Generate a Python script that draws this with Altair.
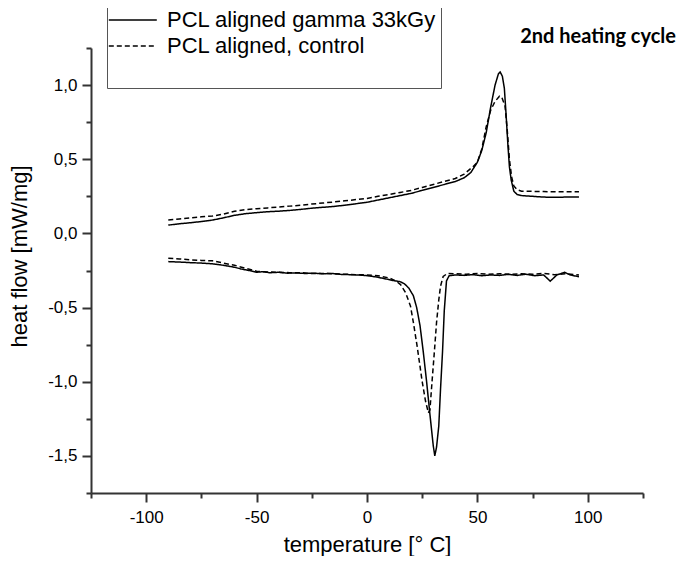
import altair as alt
import pandas as pd

S1 = "PCL aligned gamma 33kGy"
S2 = "PCL aligned, control"

# upper branch, gamma 33kGy (solid)
up_g_t = [-90, -85, -80, -75, -70, -65, -60, -55, -50, -45, -40, -35, -30, -25, -20, -15, -10, -5, 0, 5, 10, 15, 20, 25, 30, 35, 40, 44, 47, 50, 52, 54, 56, 58, 59.5, 60.3, 61.3, 62.2, 63, 63.8, 64.5, 65.3, 66.5, 68, 70, 75, 80, 85, 90, 96]
up_g_h = [0.056, 0.065, 0.072, 0.08, 0.09, 0.105, 0.122, 0.133, 0.14, 0.146, 0.15, 0.155, 0.162, 0.17, 0.176, 0.182, 0.19, 0.2, 0.21, 0.225, 0.24, 0.255, 0.27, 0.29, 0.31, 0.33, 0.35, 0.375, 0.41, 0.48, 0.56, 0.68, 0.85, 1.0, 1.075, 1.088, 1.06, 0.98, 0.8, 0.6, 0.45, 0.36, 0.285, 0.262, 0.255, 0.25, 0.245, 0.243, 0.245, 0.245]

# upper branch, control (dashed)
up_c_t = [-90, -85, -80, -75, -70, -65, -60, -55, -50, -45, -40, -35, -30, -25, -20, -15, -10, -5, 0, 5, 10, 15, 20, 25, 30, 35, 40, 44, 48, 50, 52, 54, 56, 58, 60, 61, 62.5, 63.5, 64.5, 65.5, 66.5, 68, 70, 80, 90, 96]
up_c_h = [0.09, 0.098, 0.105, 0.112, 0.117, 0.13, 0.15, 0.16, 0.167, 0.172, 0.178, 0.184, 0.19, 0.198, 0.205, 0.212, 0.22, 0.228, 0.236, 0.25, 0.262, 0.276, 0.29, 0.31, 0.33, 0.35, 0.37, 0.4, 0.45, 0.48, 0.57, 0.72, 0.83, 0.89, 0.925, 0.92, 0.86, 0.7, 0.5, 0.38, 0.32, 0.295, 0.285, 0.282, 0.28, 0.281]

# lower branch, gamma 33kGy (solid)
lo_g_t = [-90, -85, -80, -75, -70, -65, -60, -57, -54, -50, -47, -44, -40, -36, -32, -28, -24, -20, -16, -12, -8, -4, 0, 4, 8, 12, 15, 17, 19, 21, 22.5, 24, 25.5, 27, 28.5, 30, 30.7, 31.5, 32.5, 33.3, 34.2, 35, 36, 37.2, 40, 44, 48, 52, 56, 60, 64, 68, 72, 76, 80, 83, 86, 89.5, 92, 96]
lo_g_h = [-0.19, -0.193, -0.197, -0.2, -0.205, -0.215, -0.228, -0.24, -0.248, -0.262, -0.258, -0.265, -0.262, -0.268, -0.266, -0.27, -0.268, -0.272, -0.27, -0.276, -0.278, -0.28, -0.285, -0.293, -0.305, -0.318, -0.325, -0.34, -0.37, -0.42, -0.5, -0.62, -0.8, -1.0, -1.22, -1.43, -1.5, -1.44, -1.3, -1.05, -0.8, -0.52, -0.32, -0.285, -0.28, -0.283, -0.278, -0.285, -0.28, -0.283, -0.276, -0.283, -0.275, -0.285, -0.28, -0.322, -0.28, -0.262, -0.28, -0.292]

# lower branch, control (dashed)
lo_c_t = [-90, -85, -80, -75, -70, -65, -60, -55, -50, -45, -40, -35, -30, -25, -20, -15, -10, -5, 0, 5, 10, 13, 15.2, 17.5, 19.7, 21, 22.7, 25, 26.5, 27.8, 28.5, 29.5, 30.5, 31.5, 32.5, 33.3, 34.5, 36.4, 40, 45, 50, 55, 60, 65, 70, 75, 80, 85, 90, 96]
lo_c_h = [-0.167, -0.172, -0.178, -0.182, -0.185, -0.2, -0.215, -0.235, -0.255, -0.26, -0.262, -0.265, -0.265, -0.27, -0.27, -0.272, -0.275, -0.278, -0.28, -0.285, -0.3, -0.32, -0.345, -0.4, -0.49, -0.6, -0.76, -1.0, -1.13, -1.21, -1.19, -0.99, -0.8, -0.6, -0.45, -0.356, -0.29, -0.27, -0.272, -0.275, -0.27, -0.275, -0.272, -0.276, -0.272, -0.275, -0.27, -0.278, -0.272, -0.28]

x_ticks = [-125, -100, -75, -50, -25, 0, 25, 50, 75, 100, 125]
y_ticks = [-1.75, -1.5, -1.25, -1.0, -0.75, -0.5, -0.25, 0.0, 0.25, 0.5, 0.75, 1.0, 1.25]

rows = []
for series, branch, ts, hs in [
    (S1, "up", up_g_t, up_g_h),
    (S2, "up", up_c_t, up_c_h),
    (S1, "low", lo_g_t, lo_g_h),
    (S2, "low", lo_c_t, lo_c_h),
]:
    for t, h in zip(ts, hs):
        rows.append({"series": series, "branch": branch, "T": t, "hf": h})
df = pd.DataFrame(rows)

FONT = "Liberation Sans"

lines = alt.Chart(df).mark_line(strokeWidth=1.5, color="black").encode(
    x=alt.X(
        "T:Q",
        scale=alt.Scale(domain=[-125, 125], nice=False, zero=False),
        axis=alt.Axis(
            title="temperature [° C]",
            values=x_ticks,
            labelExpr="datum.value % 50 == 0 ? '' + datum.value : ''",
            tickSize={"condition": {"test": "datum.value % 50 == 0", "value": 9}, "value": 5},
            labelPadding=7,
            labelOverlap=False,
            labelFlush=False,
            titleY=58,
            titleBaseline="alphabetic",
        ),
    ),
    y=alt.Y(
        "hf:Q",
        scale=alt.Scale(domain=[-1.75, 1.25], nice=False, zero=False),
        axis=alt.Axis(
            title="heat flow [mW/mg]",
            values=y_ticks,
            labelExpr="datum.value % 0.5 == 0 ? (datum.value < 0 ? '-' : '') + replace(format(abs(datum.value), '.1f'), '.', ',') : ''",
            tickSize={"condition": {"test": "datum.value % 0.5 == 0", "value": 9}, "value": 5},
            labelPadding=5,
            labelOverlap=False,
            labelFlush=False,
            titleX=-65,
            titleY=208,
            titleBaseline="alphabetic",
        ),
    ),
    strokeDash=alt.StrokeDash(
        "series:N",
        scale=alt.Scale(domain=[S1, S2], range=[[1, 0], [5, 3]]),
        legend=alt.Legend(
            orient="none",
            legendX=16,
            legendY=-43,
            title=" ",
            titleOrient="bottom",
            titleFontSize=22,
            titlePadding=6,
            padding=4,
            strokeColor="#555555",
            fillColor="white",
            symbolType="M-2.2,0H5.8",
            symbolSize=144,
            symbolStrokeWidth=1.5,
            symbolStrokeColor="black",
            labelFontSize=22,
            labelFont=FONT,
            labelColor="black",
            labelOffset=34,
            labelLimit=400,
            rowPadding=4,
        ),
    ),
    detail="branch:N",
)

note = alt.Chart(alt.Data(values=[{"t": "2nd heating cycle"}])).mark_text(
    font="Lato", fontWeight="bold", fontSize=20, align="right", baseline="alphabetic", color="black"
).encode(
    text="t:N",
    x=alt.value(585),
    y=alt.value(-5),
)

chart = alt.layer(lines, note).properties(
    width=552,
    height=445,
    autosize=alt.AutoSizeParams(type="none"),
    padding={"left": 83, "top": 40, "right": 34, "bottom": 63},
).configure_view(strokeWidth=0).configure_axis(
    grid=False,
    domainColor="#333333",
    domainWidth=2,
    tickColor="#333333",
    tickWidth=2,
    labelFont=FONT,
    labelFontSize=17,
    labelColor="black",
    titleFont=FONT,
    titleFontSize=22,
    titleFontWeight="normal",
    titleColor="black",
)

chart.save("out.html", embed_options={"renderer": "svg", "actions": False})
